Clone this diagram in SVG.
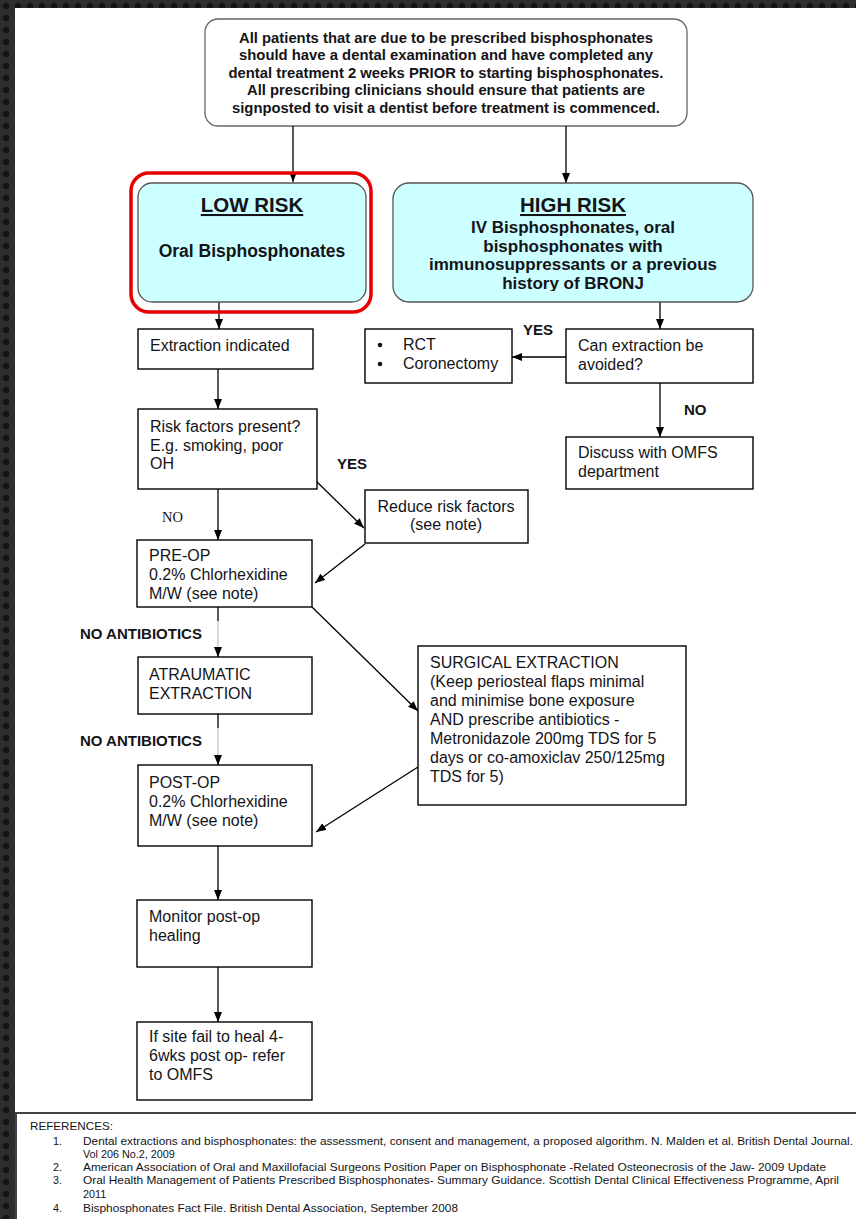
<svg xmlns="http://www.w3.org/2000/svg" width="856" height="1219" viewBox="0 0 856 1219">
  <defs>
    <pattern id="dots" x="0" y="0" width="12" height="12" patternUnits="userSpaceOnUse">
      <rect width="12" height="12" fill="#2e2e30"/>
      <circle cx="6" cy="6" r="3.2" fill="#151516"/>
    </pattern>
    <marker id="arr" markerUnits="userSpaceOnUse" viewBox="0 0 10 8" refX="10" refY="4" markerWidth="10" markerHeight="8" orient="auto">
      <path d="M0,0 L10,4 L0,8 z" fill="#000"/>
    </marker>
    <clipPath id="hrclip">
      <rect x="393" y="183" width="360" height="108"/>
    </clipPath>
    <style>
      .t { font-family: "Liberation Sans", Arial, sans-serif; font-size: 16px; fill: #141418; }
      .b { font-family: "Liberation Sans", Arial, sans-serif; font-weight: bold; fill: #141418; }
      .hdr { font-size: 15px; text-anchor: middle; }
      .risk { font-size: 17px; text-anchor: middle; }
      .title { font-size: 20.5px; text-anchor: middle; text-decoration: underline; }
      .lbl { font-size: 15px; }
      .ref { font-family: "Liberation Sans", Arial, sans-serif; font-size: 10.8px; fill: #141418; }
      .box { fill: #fff; stroke: #000; stroke-width: 1.4; }
      .rbox { fill: #ccffff; stroke: #555; stroke-width: 1.3; }
      .con { fill: none; stroke: #000; stroke-width: 1.3; }
      .gray { fill: none; stroke: #c4c4c4; stroke-width: 1.3; }
    </style>
  </defs>

  <rect x="0" y="0" width="856" height="1219" fill="url(#dots)"/>
  <rect x="15" y="8" width="841" height="1211" fill="#fff"/>

  <g id="node-intro">
    <rect x="205" y="19" width="482" height="107" rx="13" fill="#fff" stroke="#666" stroke-width="1.3"/>
    <text class="b hdr" x="446" y="42.5" textLength="414" lengthAdjust="spacingAndGlyphs">All patients that are due to be prescribed bisphosphonates</text>
    <text class="b hdr" x="446" y="60" textLength="414" lengthAdjust="spacingAndGlyphs">should have a dental examination and have completed any</text>
    <text class="b hdr" x="446" y="77.5" textLength="435" lengthAdjust="spacingAndGlyphs">dental treatment 2 weeks PRIOR to starting bisphosphonates.</text>
    <text class="b hdr" x="446" y="95" textLength="398" lengthAdjust="spacingAndGlyphs">All prescribing clinicians should ensure that patients are</text>
    <text class="b hdr" x="446" y="112.5" textLength="428" lengthAdjust="spacingAndGlyphs">signposted to visit a dentist before treatment is commenced.</text>
  </g>

  <g id="connectors">
    <path class="con" d="M293,126 V182" marker-end="url(#arr)"/>
    <path class="con" d="M566,126 V183" marker-end="url(#arr)"/>
    <path class="con" d="M219,302 V329" marker-end="url(#arr)"/>
    <path class="con" d="M660,302 V329" marker-end="url(#arr)"/>
    <path class="con" d="M566,357 H512" marker-end="url(#arr)"/>
    <path class="con" d="M660,383 V437" marker-end="url(#arr)"/>
    <path class="con" d="M218,369 V409" marker-end="url(#arr)"/>
    <path class="con" d="M312,477 L364,528" marker-end="url(#arr)"/>
    <path class="con" d="M218,489 V540" marker-end="url(#arr)"/>
    <path class="con" d="M365,544 L315,583" marker-end="url(#arr)"/>
    <path class="con" d="M218,607 V621"/>
    <path class="gray" d="M218,621 V648"/>
    <path class="con" d="M218,648 V657" marker-end="url(#arr)"/>
    <path class="con" d="M312,607 L418,711" marker-end="url(#arr)"/>
    <path class="con" d="M218,714 V728"/>
    <path class="gray" d="M218,728 V756"/>
    <path class="con" d="M218,756 V765" marker-end="url(#arr)"/>
    <path class="con" d="M418,767 L316,832" marker-end="url(#arr)"/>
    <path class="con" d="M218,846 V900" marker-end="url(#arr)"/>
    <path class="con" d="M218,967 V1022" marker-end="url(#arr)"/>
  </g>

  <g id="node-low-risk">
    <rect class="rbox" x="138" y="183" width="228" height="119" rx="14"/>
    <rect x="131" y="173" width="240" height="139" rx="18" fill="none" stroke="#e60000" stroke-width="3.5"/>
    <text class="b title" x="252" y="212">LOW RISK</text>
    <text class="b" x="252" y="257" font-size="17.5" text-anchor="middle">Oral Bisphosphonates</text>
  </g>

  <g id="node-high-risk">
    <rect class="rbox" x="393" y="183" width="360" height="119" rx="16"/>
    <text class="b title" x="573" y="212">HIGH RISK</text>
    <g clip-path="url(#hrclip)">
      <text class="b risk" x="573" y="233">IV Bisphosphonates, oral</text>
      <text class="b risk" x="573" y="251.5">bisphosphonates with</text>
      <text class="b risk" x="573" y="270">immunosuppressants or a previous</text>
      <text class="b risk" x="573" y="288.5">history of BRONJ</text>
    </g>
  </g>

  <g id="node-extraction-indicated">
    <rect class="box" x="138" y="329" width="175" height="40"/>
    <text class="t" x="150" y="351">Extraction indicated</text>
  </g>

  <g id="node-rct">
    <rect class="box" x="365" y="329" width="147" height="54"/>
    <circle cx="380" cy="345" r="2.3" fill="#141418"/>
    <circle cx="380" cy="364" r="2.3" fill="#141418"/>
    <text class="t" x="403" y="350">RCT</text>
    <text class="t" x="403" y="369">Coronectomy</text>
  </g>

  <g id="node-can-avoid">
    <rect class="box" x="566" y="329" width="187" height="54"/>
    <text class="t" x="578" y="351">Can extraction be</text>
    <text class="t" x="578" y="370">avoided?</text>
  </g>

  <g id="node-discuss">
    <rect class="box" x="566" y="437" width="187" height="52"/>
    <text class="t" x="578" y="458">Discuss with OMFS</text>
    <text class="t" x="578" y="477">department</text>
  </g>

  <g id="node-risk-factors">
    <rect class="box" x="138" y="409" width="179" height="80"/>
    <text class="t" x="150" y="432">Risk factors present?</text>
    <text class="t" x="150" y="451">E.g. smoking, poor</text>
    <text class="t" x="150" y="469">OH</text>
  </g>

  <g id="node-reduce">
    <rect class="box" x="365" y="490" width="163" height="53"/>
    <text class="t" x="446" y="512" text-anchor="middle">Reduce risk factors</text>
    <text class="t" x="446" y="530" text-anchor="middle">(see note)</text>
  </g>

  <g id="node-pre-op">
    <rect class="box" x="137" y="540" width="175" height="67"/>
    <text class="t" x="149" y="561">PRE-OP</text>
    <text class="t" x="149" y="580">0.2% Chlorhexidine</text>
    <text class="t" x="149" y="599">M/W (see note)</text>
  </g>

  <g id="node-atraumatic">
    <rect class="box" x="138" y="657" width="174" height="57"/>
    <text class="t" x="149" y="680">ATRAUMATIC</text>
    <text class="t" x="149" y="699">EXTRACTION</text>
  </g>

  <g id="node-surgical">
    <rect class="box" x="418" y="646" width="268" height="159"/>
    <text class="t" x="430" y="668">SURGICAL EXTRACTION</text>
    <text class="t" x="430" y="687">(Keep periosteal flaps minimal</text>
    <text class="t" x="430" y="706">and minimise bone exposure</text>
    <text class="t" x="430" y="725">AND prescribe antibiotics -</text>
    <text class="t" x="430" y="744">Metronidazole 200mg TDS for 5</text>
    <text class="t" x="430" y="763">days or co-amoxiclav 250/125mg</text>
    <text class="t" x="430" y="782">TDS for 5)</text>
  </g>

  <g id="node-post-op">
    <rect class="box" x="138" y="765" width="174" height="81"/>
    <text class="t" x="149" y="788">POST-OP</text>
    <text class="t" x="149" y="807">0.2% Chlorhexidine</text>
    <text class="t" x="149" y="826">M/W (see note)</text>
  </g>

  <g id="node-monitor">
    <rect class="box" x="137" y="900" width="175" height="67"/>
    <text class="t" x="149" y="922">Monitor post-op</text>
    <text class="t" x="149" y="941">healing</text>
  </g>

  <g id="node-refer">
    <rect class="box" x="137" y="1022" width="175" height="78"/>
    <text class="t" x="149" y="1042">If site fail to heal 4-</text>
    <text class="t" x="149" y="1061">6wks post op- refer</text>
    <text class="t" x="149" y="1080">to OMFS</text>
  </g>

  <g id="labels">
    <text class="b lbl" x="523" y="335">YES</text>
    <text class="b lbl" x="684" y="415">NO</text>
    <text class="b lbl" x="337" y="469">YES</text>
    <text x="162" y="522" font-family="Liberation Serif, 'Times New Roman', serif" font-size="14.5" fill="#141418">NO</text>
    <text class="b lbl" x="80" y="639">NO ANTIBIOTICS</text>
    <text class="b lbl" x="80" y="746">NO ANTIBIOTICS</text>
  </g>

  <g id="references">
    <path d="M16,1219 V1113 H856" fill="none" stroke="#444" stroke-width="2"/>
    <text class="ref" x="30" y="1130" textLength="83" lengthAdjust="spacingAndGlyphs">REFERENCES:</text>
    <text class="ref" x="53" y="1145">1.</text>
    <text class="ref" x="83" y="1145" textLength="770" lengthAdjust="spacingAndGlyphs">Dental extractions and bisphosphonates: the assessment, consent and management, a proposed algorithm. N. Malden et al. British Dental Journal.</text>
    <text class="ref" x="83" y="1158">Vol 206 No.2, 2009</text>
    <text class="ref" x="53" y="1171">2.</text>
    <text class="ref" x="83" y="1171" textLength="743" lengthAdjust="spacingAndGlyphs">American Association of Oral and Maxillofacial Surgeons Position Paper on Bisphosphonate -Related Osteonecrosis of the Jaw- 2009 Update</text>
    <text class="ref" x="53" y="1184">3.</text>
    <text class="ref" x="83" y="1184" textLength="756" lengthAdjust="spacingAndGlyphs">Oral Health Management of Patients Prescribed Bisphosphonates- Summary Guidance. Scottish Dental Clinical Effectiveness Programme, April</text>
    <text class="ref" x="83" y="1198">2011</text>
    <text class="ref" x="53" y="1212">4.</text>
    <text class="ref" x="83" y="1212" textLength="375" lengthAdjust="spacingAndGlyphs">Bisphosphonates Fact File. British Dental Association, September 2008</text>
  </g>
</svg>
